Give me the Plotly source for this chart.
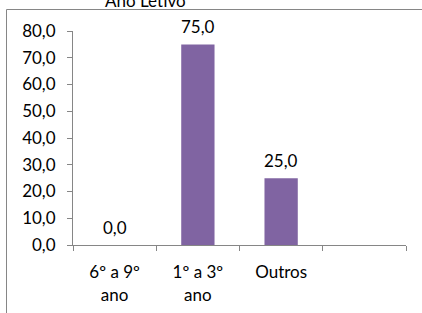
import plotly.graph_objects as go

categories = ["6º a 9º<br>ano", "1º a 3º<br>ano", "Outros", " "]
values = [0.0, 75.0, 25.0, None]
title_text = "Ano Letivo"

W, H = 422, 313
ml, mr, mt, mb = 73, 16, 31, 68
pw, ph = W - ml - mr, H - mt - mb

fig = go.Figure()
fig.add_trace(go.Bar(
    x=categories, y=values,
    marker=dict(color="#8064A2", line=dict(width=0)),
    width=0.4, hoverinfo="skip",
))

gray = "#868686"
annotations = [dict(
    text=title_text, xref="paper", yref="paper",
    x=(145 - ml) / pw, y=1 + (mt + 0) / ph, xanchor="center", yanchor="middle",
    showarrow=False, font=dict(size=17, color="black"),
)]
for c, v in zip(categories, values):
    if v is None:
        continue
    annotations.append(dict(
        text=f"{v:.1f}".replace(".", ","), x=c, y=v, xref="x", yref="y",
        yshift=18, xanchor="center", yanchor="middle", showarrow=False,
        font=dict(size=17, color="black"),
    ))

fig.update_layout(
    width=W, height=H,
    margin=dict(l=ml, r=mr, t=mt, b=mb, pad=0, autoexpand=False),
    paper_bgcolor="white", plot_bgcolor="white",
    separators=",.",
    font=dict(family="Lato, Carlito, sans-serif", size=17, color="black"),
    showlegend=False,
    xaxis=dict(
        type="category", showline=True, linecolor=gray, linewidth=1,
        ticks="outside", ticklen=5, tickcolor=gray, tickson="boundaries",
        showgrid=False, tickfont=dict(size=17), range=[-0.5, 3.5],
        automargin=False, ticklabelstandoff=12,
    ),
    yaxis=dict(
        range=[0, 80], dtick=10, tickformat=".1f", showline=True, linecolor=gray,
        linewidth=1, ticks="outside", ticklen=5, tickcolor=gray, showgrid=False,
        zeroline=False, tickfont=dict(size=17), automargin=False,
        ticklabelstandoff=8,
    ),
    annotations=annotations,
    shapes=[dict(
        type="rect", xref="paper", yref="paper",
        x0=(6.5 - ml) / pw, x1=1.3, y0=-0.6, y1=1 + (mt - 9.5) / ph,
        line=dict(color=gray, width=1), layer="below",
    )],
)

fig.write_html(
    "out.html",
    config={"displayModeBar": False},
    post_script="document.body.style.margin='0';document.body.style.overflow='hidden';",
)
